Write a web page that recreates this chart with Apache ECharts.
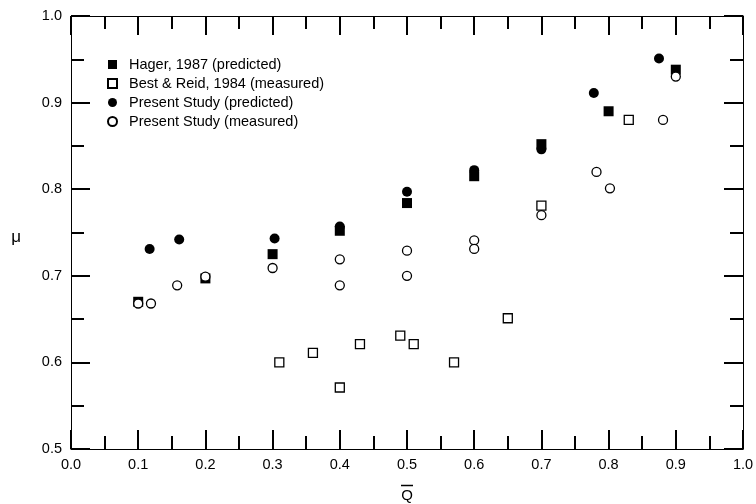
<!DOCTYPE html>
<html><head><meta charset="utf-8">
<script src="https://cdn.jsdelivr.net/npm/echarts@6/dist/echarts.min.js"></script>
<style>html,body{margin:0;padding:0;background:#fff}#c{width:756px;height:504px}</style>
</head><body><div id="c"></div>
<script>
const hagerX = [0.10, 0.20, 0.30, 0.40, 0.50, 0.60, 0.70, 0.80, 0.90];
const hagerY = [0.670, 0.697, 0.725, 0.752, 0.784, 0.815, 0.852, 0.890, 0.938];
const bestX = [0.31, 0.36, 0.40, 0.43, 0.49, 0.51, 0.57, 0.65, 0.70, 0.83];
const bestY = [0.600, 0.611, 0.571, 0.621, 0.631, 0.621, 0.600, 0.651, 0.781, 0.880];
const predX = [0.117, 0.161, 0.303, 0.40, 0.50, 0.60, 0.70, 0.778, 0.875];
const predY = [0.731, 0.742, 0.743, 0.757, 0.797, 0.822, 0.846, 0.911, 0.951];
const measX = [0.10, 0.119, 0.158, 0.20, 0.30, 0.40, 0.40, 0.50, 0.50, 0.60, 0.60, 0.70, 0.782, 0.802, 0.881, 0.90];
const measY = [0.668, 0.668, 0.689, 0.699, 0.709, 0.719, 0.689, 0.729, 0.700, 0.741, 0.731, 0.770, 0.820, 0.801, 0.880, 0.930];
const xTicks = ['0.0','0.1','0.2','0.3','0.4','0.5','0.6','0.7','0.8','0.9','1.0'];
const yTicks = ['0.5','0.6','0.7','0.8','0.9','1.0'];

const zip = (xs, ys) => xs.map((x, i) => [x, ys[i]]);
const font = 'Liberation Sans, Arial, sans-serif';
const chart = echarts.init(document.getElementById('c'), null, {renderer: 'canvas'});

function xAx(pos, showLabel) {
  return {
    type: 'value', position: pos, min: 0, max: 1, interval: 0.1,
    axisLine: {show: true, onZero: false, lineStyle: {color: '#000', width: 1}},
    axisTick: {show: true, inside: true, length: 19, lineStyle: {color: '#000', width: 2}},
    minorTick: {show: true, splitNumber: 2, length: 13, lineStyle: {color: '#000', width: 2}},
    splitLine: {show: false},
    axisLabel: {show: showLabel, color: '#000', fontSize: 14.5, fontFamily: font, margin: 8,
      formatter: v => xTicks[Math.round(v * 10)]},
    name: showLabel ? '{ol| }\n{q|Q}' : '',
    nameLocation: 'middle', nameGap: 35,
    nameTextStyle: {rich: {
      ol: {width: 12, height: 1.5, backgroundColor: '#000', lineHeight: 3},
      q: {fontSize: 15, fontFamily: font, color: '#000', lineHeight: 17}
    }}
  };
}
function yAx(pos, showLabel) {
  return {
    type: 'value', position: pos, min: 0.5, max: 1.0, interval: 0.1,
    axisLine: {show: true, onZero: false, lineStyle: {color: '#000', width: 1}},
    axisTick: {show: true, inside: true, length: 19, lineStyle: {color: '#000', width: 2}},
    minorTick: {show: true, splitNumber: 2, length: 13, lineStyle: {color: '#000', width: 2}},
    splitLine: {show: false},
    axisLabel: {show: showLabel, color: '#000', fontSize: 14.5, fontFamily: font, margin: 9,
      formatter: v => yTicks[Math.round((v - 0.5) * 10)]},
    name: showLabel ? '{m|μ}' : '',
    nameLocation: 'middle', nameGap: 50, nameRotate: 0,
    nameTextStyle: {rich: {m: {fontSize: 17, fontFamily: font, color: '#000', padding: [10, 0, 0, 0]}}}
  };
}

chart.setOption({
  animation: false,
  backgroundColor: '#fff',
  grid: {left: 71, right: 13, top: 16, bottom: 55, containLabel: false, outerBoundsMode: 'none'},
  xAxis: [xAx('bottom', true), xAx('top', false)],
  yAxis: [yAx('left', true), yAx('right', false)],
  legend: {
    orient: 'vertical', left: 102, top: 52, itemGap: 4, itemWidth: 9, itemHeight: 9,
    textStyle: {fontSize: 14.5, fontFamily: font, color: '#000', padding: [0, 0, 0, 7]},
    data: ['Hager, 1987 (predicted)', 'Best & Reid, 1984 (measured)', 'Present Study (predicted)', 'Present Study (measured)']
  },
  series: [
    {name: 'Hager, 1987 (predicted)', type: 'scatter', symbol: 'rect', symbolSize: 10,
     itemStyle: {color: '#000', opacity: 1}, data: zip(hagerX, hagerY)},
    {name: 'Best & Reid, 1984 (measured)', type: 'scatter', symbol: 'rect', symbolSize: 9,
     itemStyle: {color: '#fff', borderColor: '#000', borderWidth: 1.3, opacity: 1}, data: zip(bestX, bestY)},
    {name: 'Present Study (predicted)', type: 'scatter', symbol: 'circle', symbolSize: 10,
     itemStyle: {color: '#000', opacity: 1}, data: zip(predX, predY)},
    {name: 'Present Study (measured)', type: 'scatter', symbol: 'circle', symbolSize: 9,
     itemStyle: {color: '#fff', borderColor: '#000', borderWidth: 1.3, opacity: 1}, data: zip(measX, measY)}
  ]
});
</script></body></html>
